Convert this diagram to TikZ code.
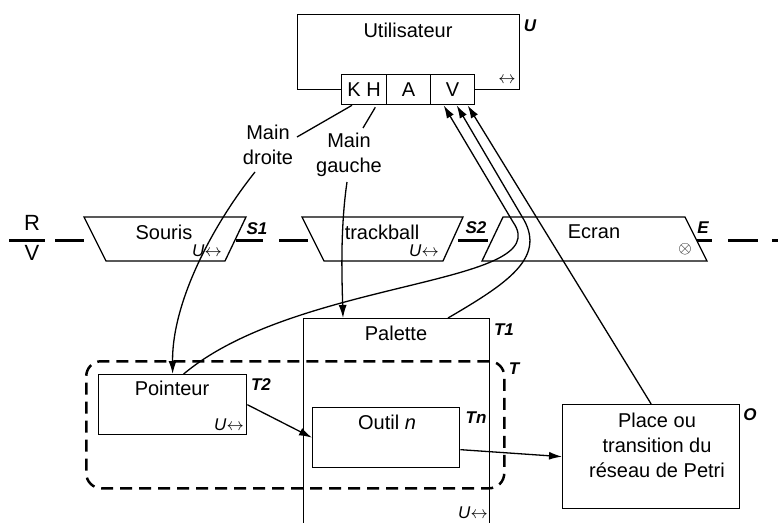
\documentclass[tikz,border=0pt]{standalone}
\usepackage{fontspec}
\setmainfont{Liberation Sans}
\usetikzlibrary{arrows.meta,calc}
\newcommand{\uarrow}{\fontsize{17}{19}\selectfont\textit{U}\fontsize{18}{19}\selectfont\(\leftrightarrow\)}
\begin{document}
\begin{tikzpicture}[x=1pt,y=-1pt,
  box/.style={draw, line width=1.3pt, inner sep=0pt, anchor=north west},
  cell/.style={box, fill=white, minimum height=30pt},
  txt/.style={inner sep=0pt, font=\fontsize{20}{25}\selectfont},
  big/.style={inner sep=0pt, font=\fontsize{22}{26}\selectfont},
  lbl/.style={inner sep=0pt, font=\fontsize{17}{19}\selectfont\bfseries\itshape},
  uarr/.style={inner sep=0pt, anchor=east},
  rail/.style={line width=3pt},
  trap/.style={draw, line width=1.3pt, fill=white, line join=miter},
  conn/.style={line width=1.3pt},
  arr/.style={conn, -{Latex[length=13pt,width=8pt]}},
  group/.style={draw, line width=2.5pt, dash pattern=on 12pt off 7pt, rounded corners=15pt, inner sep=0pt, anchor=north west}
]
\useasboundingbox (0,0) rectangle (778,522);
\clip (0,0) rectangle (778,522);

% R/V boundary rail
\draw[rail] (9,240) -- (45,240);
\node[big] (R) at (32,223) {R};
\node[big] (Vr) at (32,253) {V};
\foreach \a/\b in {55/84,236/263,279/308,458/488,696/712,728/758,772/778}
  \draw[rail] (\a,240) -- (\b,240);

% devices
\draw[trap] (84,217) -- (246,217) -- (225,261) -- (106,261) -- cycle;
\draw[trap] (302,217) -- (463,217) -- (443,261) -- (324,261) -- cycle;
\draw[trap] (503,217) -- (685,217) -- (707,261) -- (482,261) -- cycle;
\node[txt] (souris) at (164,232) {Souris};
\node[txt] (track) at (382,232) {trackball};
\node[txt] (ecran) at (594,232) {Ecran};
\node[uarr] (us1) at (222,251) {\uarrow};
\node[uarr] (us2) at (439,251) {\uarrow};
\node[inner sep=0pt, font=\fontsize{19}{21}\selectfont] (ecx) at (685,249) {\(\otimes\)};
\node[lbl] (s1) at (257,229) {S1};
\node[lbl] (s2) at (476,228) {S2};
\node[lbl] (e) at (703,228) {E};

% user
\node[box, minimum width=222pt, minimum height=75pt] (user) at (297,14) {};
\node[txt] (usertxt) at (408,30) {Utilisateur};
\node[inner sep=0pt, font=\fontsize{18}{19}\selectfont] (uarrowtxt) at (507,80) {\(\leftrightarrow\)};
\node[lbl] (ul) at (530,26) {U};
\node[cell, minimum width=45pt] (kh) at (341,74) {};
\node[cell, minimum width=44pt] (a) at (386,74) {};
\node[cell, minimum width=44pt] (v) at (430,74) {};
\node[txt] (khtxt) at (kh.center) {K H};
\node[txt] (atxt) at (a.center) {A};
\node[txt] (vtxt) at (v.center) {V};

% tools
\node[box, minimum width=186pt, minimum height=212pt] (palette) at (303,318) {};
\node[txt] (paltxt) at (396,333) {Palette};
\node[lbl] (t1) at (504,330) {T1};
\node[uarr] (up) at (488,513) {\uarrow};

\node[group, minimum width=418pt, minimum height=127pt] (tgroup) at (85,360) {};
\node[lbl] (tl) at (514,369) {T};

\node[box, fill=white, minimum width=148pt, minimum height=60pt] (pointeur) at (98,374) {};
\node[txt] (pttxt) at (172,388) {Pointeur};
\node[lbl] (t2) at (261,385) {T2};
\node[uarr] (upt) at (244,425) {\uarrow};

\node[box, fill=white, minimum width=147pt, minimum height=60pt] (outil) at (312,407) {};
\node[txt] (outtxt) at (387,422) {Outil \textit{n}};
\node[lbl] (tn) at (476,418) {Tn};

\node[box, fill=white, minimum width=177pt, minimum height=104pt] (place) at (562,404) {};
\node[txt, align=center] (pltxt) at (657,445) {Place ou\\transition du\\réseau de Petri};
\node[lbl] (o) at (750,415) {O};

% hands
\node[txt, align=center] (md) at (268,145) {Main\\droite};
\node[txt, align=center] (mg) at (349,155) {Main\\gauche};

% connectors
\draw[conn] ($(kh.south west)+(11,0)$) -- ($(md.center)+(29,-8)$);
\draw[arr] ($(md.center)+(-13,27)$) .. controls (215,222) and (172,300) .. (pointeur.north);
\draw[conn] ($(kh.south east)+(-12,2)$) -- ($(mg.center)+(14,-27)$);
\draw[arr] ($(mg.center)+(-2,27)$) .. controls (340,230) and (342,280) .. ($(palette.north west)+(40,0)$);
\draw[arr] (pointeur.east) -- (outil.west);
\draw[arr] ($(outil.east)+(0,12)$) -- (place.west);

\coordinate (b1) at (513,222);
\coordinate (b2) at (524,220);
\draw[arr] ($(pointeur.north)+(11,0)$) .. controls (298,278) and (558,286) .. (b1) -- ($(v.south)+(-9,0)$);
\draw[arr] ($(palette.north west)+(145,0)$) .. controls (508,283) and (545,258) .. (b2) -- ($(v.south)+(4,0)$);
\draw[arr] (place.north) -- ($(v.south)+(15,0)$);
\end{tikzpicture}
\end{document}
